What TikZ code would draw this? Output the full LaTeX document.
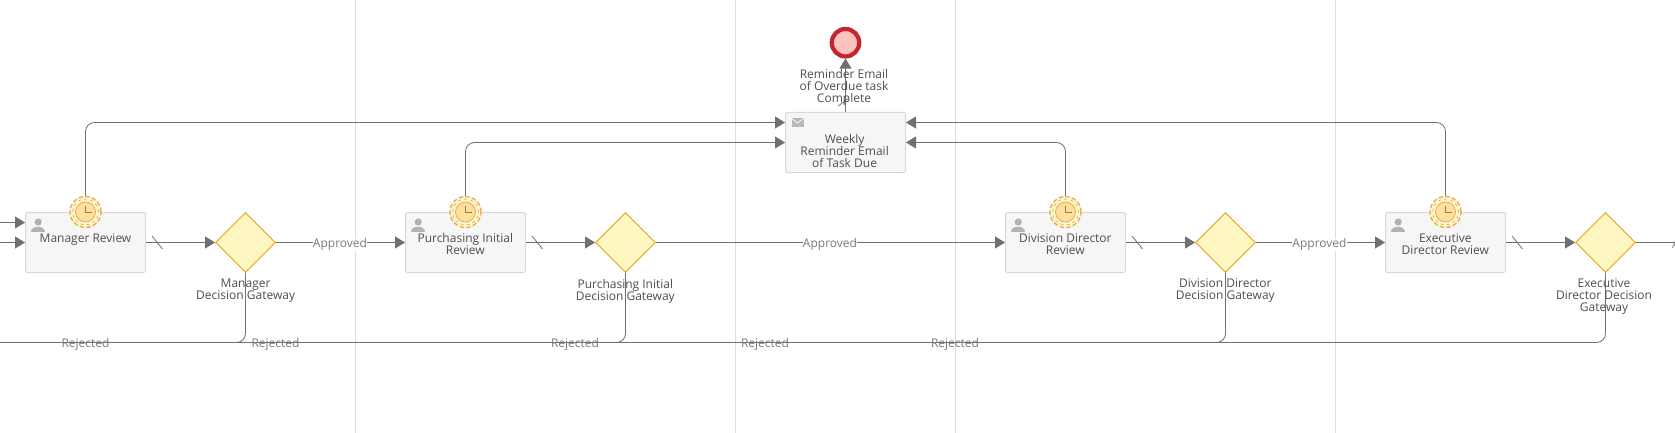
\documentclass[tikz,border=0pt]{standalone}
\usepackage{fontspec}
\setmainfont{Open Sans}
\usetikzlibrary{arrows.meta,shapes.geometric,calc}
\definecolor{ln}{HTML}{707070}
\definecolor{txt}{HTML}{4F4F4F}
\definecolor{lbl}{HTML}{7A7A7A}
\definecolor{sep}{HTML}{DDDDDD}
\definecolor{gateb}{HTML}{E3A21A}
\definecolor{gatef}{HTML}{FFF7C2}
\definecolor{timb}{HTML}{E6B04A}
\definecolor{timf}{HTML}{FFF6D6}
\definecolor{timi}{HTML}{FFDF9E}
\definecolor{endb}{HTML}{C4262E}
\definecolor{endf}{HTML}{FBC2BE}
\tikzset{
  taskbox/.style={draw=black!15,line width=1pt,fill=black!3.5,rounded corners=2pt,minimum width=120pt,minimum height=60pt,inner sep=0pt},
  gate/.style={diamond,aspect=1,draw=gateb,line width=.9pt,fill=gatef,minimum size=60pt,inner sep=0pt},
  capt/.style={font=\fontsize{12}{12}\selectfont,text=txt,align=center,inner sep=0pt},
  flowlbl/.style={font=\fontsize{12}{12}\selectfont,text=lbl,inner sep=0pt},
  approvedlbl/.style={flowlbl,fill=white},
  flow/.style={draw=ln,line width=.8pt,-{Triangle[length=10pt,width=12pt,fill=ln]},rounded corners=9pt},
  plainflow/.style={draw=ln,line width=.8pt,rounded corners=9pt},
  tick/.style={draw=ln,line width=.8pt},
  sepline/.style={draw=sep,line width=1pt},
  timerout/.style={circle,draw=timb,dash pattern=on 4.5pt off 2.2pt,line width=1.4pt,fill=timf,minimum size=31pt,inner sep=0pt},
  timermid/.style={circle,draw=timb,dash pattern=on 3pt off 3.2pt,line width=.8pt,minimum size=26pt,inner sep=0pt},
  timerin/.style={circle,draw=timb,line width=.8pt,fill=timi,minimum size=20pt,inner sep=0pt},
}
\newcommand{\useric}[2]{%
  \fill[black!30] (#1,#2-3.5) circle (3.6pt);
  \fill[black!30] (#1-7,#2+6.2) .. controls (#1-7,#2-0.5) and (#1+7,#2-0.5) .. (#1+7,#2+6.2) -- cycle;}
\newcommand{\timeric}[1]{%
  \node[timerout] (#1o) at (#1) {};
  \node[timermid] (#1m) at (#1) {};
  \node[timerin] (#1i) at (#1) {};
  \draw[draw=timb!70!black,line width=.7pt] ($(#1)+(0,-6)$) -- (#1) -- ($(#1)+(6,0)$);}
\begin{document}
\begin{tikzpicture}[x=1pt,y=-1pt]
\useasboundingbox (0,0) rectangle (1675,433);
\fill[white] (0,0) rectangle (1675,433);
\foreach \x/\n in {355.5/a,735.5/b,955.5/c,1335.5/d}{
  \coordinate (s\n t) at (\x,0); \coordinate (s\n b) at (\x,433);
  \draw[sepline] (s\n t) -- (s\n b);
}
% tasks
\node[taskbox] (mgr) at (85.5,242.5) {};
\node[taskbox] (pur) at (465.5,242.5) {};
\node[taskbox] (div) at (1065.5,242.5) {};
\node[taskbox] (exe) at (1445.5,242.5) {};
\node[taskbox] (wk) at (845.5,142.5) {};
% gateways
\node[gate] (g1) at (245.5,242.5) {};
\node[gate] (g2) at (625.5,242.5) {};
\node[gate] (g3) at (1225.5,242.5) {};
\node[gate] (g4) at (1605.5,242.5) {};
% end
\node[circle,draw=endb,line width=4.2pt,fill=endf,minimum size=27.5pt,inner sep=0pt] (endev) at (845.5,42.7) {};
% free ends
\coordinate (in1) at (0,222.5);
\coordinate (in2) at (0,242.5);
\coordinate (rejl) at (0,342.5);
\coordinate (outr) at (1675,242.5);
% connectors
\draw[flow] (in1) -- (in1-|mgr.west);
\draw[flow] (in2) -- (mgr.west);
\draw[flow] (mgr.east) -- (g1.west);
\draw[flow] (g1.east) -- (pur.west);
\draw[flow] (pur.east) -- (g2.west);
\draw[flow] (g2.east) -- (div.west);
\draw[flow] (div.east) -- (g3.west);
\draw[flow] (g3.east) -- (exe.west);
\draw[flow] (exe.east) -- (g4.west);
\draw[plainflow] (g4.east) -- (outr);
\draw[flow] (wk.north) -- (endev.south);
\draw[plainflow] (g1.south) |- (rejl);
\draw[plainflow] (g2.south) |- (rejl);
\draw[plainflow] (g3.south) |- (rejl);
\draw[plainflow] (g4.south) |- (rejl);
\coordinate (wl1) at ($(wk.west)+(0,-20)$);
\coordinate (wr1) at ($(wk.east)+(0,-20)$);
\draw[flow] (mgr.north) |- (wl1);
\draw[flow] (pur.north) |- (wk.west);
\draw[flow] (div.north) |- (wk.east);
\draw[flow] (exe.north) |- (wr1);
% ticks
\foreach \t in {mgr,pur,div,exe}{
  \draw[tick] ($(\t.east)+(6,-6.5)$) -- ($(\t.east)+(16.5,6.5)$);
  \coordinate (\t) at (\t.north);
}
\draw[tick] (838.3,106) -- (848.5,98.3);
% timers
\foreach \t in {mgr,pur,div,exe}{ \timeric{\t} }
% icons
\useric{38.2}{225.5}
\useric{418.2}{225.5}
\useric{1018.2}{225.5}
\useric{1398.2}{225.5}
\fill[black!28] (791.5,118) rectangle (803.5,127.5);
\draw[white,line width=.7pt] (791.5,118.5) -- (797.5,123) -- (803.5,118.5);
% captions
\node[capt,anchor=north] at (85.5,233.6) {Manager Review};
\node[capt,anchor=north] at (465.3,233.6) {Purchasing Initial\\Review};
\node[capt,anchor=north] at (1065.3,233.6) {Division Director\\Review};
\node[capt,anchor=north] at (1445.3,233.6) {Executive\\Director Review};
\node[capt,anchor=north] at (844.6,134) {Weekly\\Reminder Email\\of Task Due};
\node[capt,anchor=north] at (844,69.2) {Reminder Email\\of Overdue task\\Complete};
\node[capt,anchor=north] at (245.6,278.8) {Manager\\Decision Gateway};
\node[capt,anchor=north] at (625.3,278.8) {Purchasing Initial\\Decision Gateway};
\node[capt,anchor=north] at (1225.3,278.8) {Division Director\\Decision Gateway};
\node[capt,anchor=north] at (1604,278.8) {Executive\\Director Decision\\Gateway};
% flow labels
\foreach \x in {340,830,1319.5}{ \node[approvedlbl] at (\x,244.5) {Approved}; }
\foreach \x in {85.5,275.5,575,765,955}{ \node[flowlbl] at (\x,344.5) {Rejected}; }
\node[flowlbl,anchor=west] at (1672,244.5) {A};
\end{tikzpicture}
\end{document}
